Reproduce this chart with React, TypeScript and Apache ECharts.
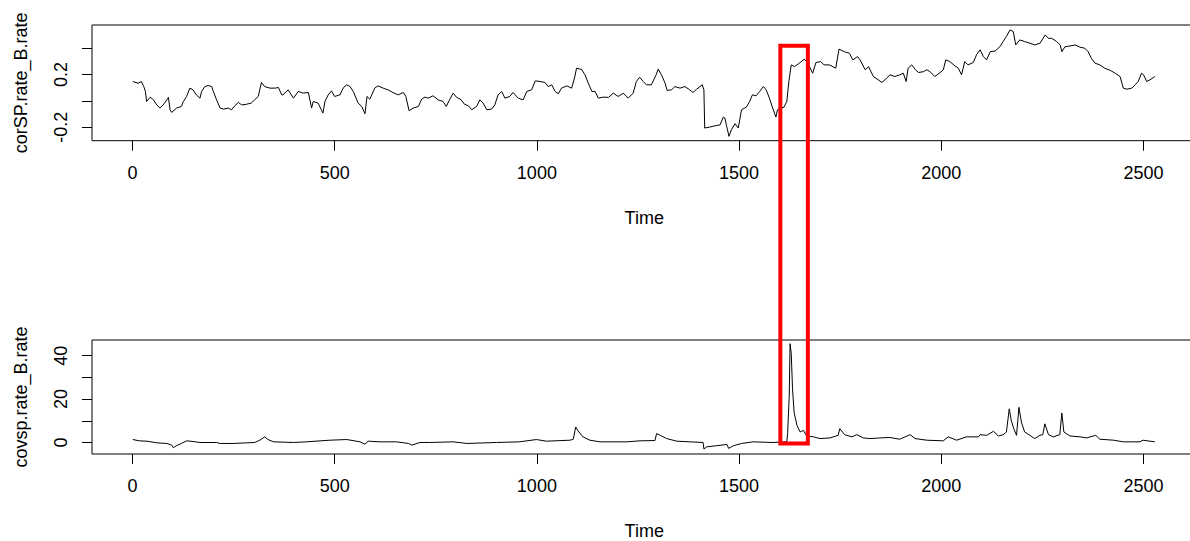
import React, { useEffect, useRef } from "react";
import * as echarts from "echarts";

// corSP.rate_B.rate : [time, value]
const corTime = [1,14,22,28,32,35,44,52,60,68,76,85,89,93,97,109,121,126,134,142,150,158,167,171,179,187,196,200,208,217,225,237,245,253,262,270,282,294,302,311,319,327,340,353,361,369,372,385,398,410,422,435,443,447,459,467,471,476,484,492,500,513,522,530,538,546,558,567,575,580,587,599,607,620,632,644,657,670,676,684,694,707,715,723,731,743,756,768,776,784,793,801,813,821,831,839,851,859,867,876,888,896,904,913,921,933,941,954,966,975,987,996,1008,1020,1028,1037,1045,1053,1061,1074,1086,1094,1098,1106,1110,1119,1127,1136,1144,1152,1164,1177,1189,1201,1214,1226,1238,1246,1254,1263,1271,1283,1295,1300,1308,1317,1322,1333,1341,1354,1366,1378,1386,1395,1409,1413,1415,1427,1441,1453,1461,1465,1469,1475,1481,1490,1498,1506,1518,1526,1533,1542,1551,1560,1567,1575,1583,1591,1595,1603,1611,1618,1623,1629,1637,1649,1661,1669,1682,1690,1702,1710,1723,1739,1747,1760,1773,1781,1793,1799,1812,1820,1832,1844,1853,1865,1873,1885,1898,1906,1913,1918,1927,1936,1944,1956,1964,1972,1984,1997,2005,2011,2021,2034,2042,2050,2058,2066,2079,2087,2096,2104,2112,2121,2133,2145,2153,2161,2170,2178,2184,2194,2206,2219,2231,2244,2257,2265,2273,2285,2294,2298,2306,2318,2331,2343,2355,2363,2371,2380,2392,2404,2418,2430,2442,2450,2459,2471,2479,2487,2495,2500,2508,2516,2528];
const corValue = [0.146,0.133,0.146,0.108,0.071,-0.005,0.028,0.007,-0.031,-0.055,-0.031,0.007,0.026,-0.068,-0.088,-0.055,-0.043,-0.005,0.033,0.096,0.083,0.045,0.020,0.071,0.108,0.116,0.108,0.071,0.007,-0.055,-0.063,-0.055,-0.068,-0.038,-0.012,-0.031,-0.026,-0.017,0.007,0.033,0.139,0.108,0.096,0.096,0.101,0.045,0.045,0.083,0.020,0.071,0.058,0.063,-0.055,-0.005,-0.017,-0.068,-0.093,-0.005,0.045,0.075,0.033,0.045,0.101,0.121,0.108,0.071,-0.017,-0.043,-0.098,0.033,0.012,0.096,0.113,0.096,0.083,0.063,0.045,0.063,0.033,-0.075,-0.055,-0.043,0.012,0.028,0.020,0.038,0.007,-0.005,-0.043,0.007,0.058,0.028,0.007,-0.026,-0.038,-0.068,-0.043,0.007,-0.017,-0.068,-0.063,-0.031,0.045,0.071,0.020,0.033,0.063,0.020,0.007,0.071,0.083,0.151,0.146,0.139,0.108,0.121,0.071,0.053,0.096,0.113,0.096,0.184,0.247,0.240,0.240,0.197,0.134,0.071,0.071,0.020,0.028,0.026,0.058,0.033,0.058,0.020,0.058,0.146,0.179,0.146,0.121,0.121,0.197,0.240,0.197,0.134,0.079,0.083,0.108,0.096,0.108,0.083,0.063,0.088,0.121,0.083,-0.206,-0.199,-0.189,-0.182,-0.123,-0.131,-0.189,-0.269,-0.219,-0.173,-0.206,-0.068,-0.048,-0.005,0.045,0.038,0.071,0.108,0.083,0.020,-0.055,-0.123,-0.068,-0.055,-0.048,-0.005,0.146,0.272,0.259,0.285,0.315,0.290,0.209,0.290,0.297,0.272,0.272,0.247,0.391,0.372,0.360,0.310,0.335,0.310,0.235,0.259,0.184,0.159,0.139,0.171,0.197,0.184,0.197,0.209,0.146,0.247,0.272,0.235,0.214,0.221,0.235,0.221,0.184,0.214,0.235,0.310,0.297,0.264,0.247,0.197,0.297,0.272,0.290,0.348,0.386,0.335,0.310,0.372,0.377,0.410,0.449,0.487,0.537,0.524,0.423,0.461,0.449,0.436,0.423,0.436,0.499,0.473,0.473,0.449,0.423,0.372,0.410,0.415,0.423,0.406,0.398,0.372,0.322,0.285,0.272,0.247,0.230,0.209,0.184,0.096,0.088,0.096,0.121,0.146,0.209,0.197,0.146,0.159,0.184];

// covsp.rate_B.rate : [time, value]
const covTime = [1,17,36,60,85,97,101,109,121,134,150,167,208,217,249,302,315,327,335,349,398,430,488,530,563,575,583,612,653,683,691,711,735,793,827,900,957,999,1024,1082,1090,1096,1102,1114,1131,1156,1222,1255,1292,1296,1305,1321,1346,1411,1413,1420,1444,1470,1474,1486,1506,1535,1584,1618,1620,1624,1626,1629,1632,1636,1643,1651,1659,1667,1684,1700,1725,1745,1749,1761,1779,1791,1807,1824,1848,1873,1897,1923,1935,1964,2005,2017,2038,2062,2092,2096,2112,2129,2141,2153,2161,2168,2173,2179,2186,2192,2198,2206,2219,2231,2244,2251,2256,2265,2277,2293,2298,2303,2318,2343,2359,2382,2392,2426,2450,2491,2499,2516,2528];
const covValue = [1.36,0.76,0.6,-0.15,-0.45,-1.2,-2.4,-1.5,-0.45,0.76,0.45,0,0,-0.45,-0.45,0,1.06,2.6,1.36,0.3,0,0.3,1.06,1.36,0.3,-0.76,0.6,0.3,0.3,-0.45,-1.2,0,0,0.3,-0.45,0,0.3,1.36,0.6,1.06,1.5,7.1,5.3,2.6,1.06,0.3,0.3,0.76,0.9,4.1,3.3,1.8,0.6,0,-3,-2,-1.5,-0.9,-2.7,-1.5,-0.45,0.3,0,0.3,4.1,21.5,45.5,41,25.2,13.9,7.9,4.85,5.6,3.0,2.6,1.8,2.1,3.3,6.4,3.6,2.6,3.6,2.1,1.8,2.1,2.3,1.5,3.6,1.8,1.06,0.76,2.6,1.06,2.6,2.6,3.6,3.3,5.15,3,3.6,4.85,15.5,10.2,6.4,3.3,16.2,9.4,4.85,3.3,1.8,3.3,3.6,8.6,3.6,2.6,3.6,13.6,4.85,3.0,2.6,2.1,3.3,1.5,1.06,0.3,0.3,1.06,0.6,0.3];

const xTicks = [0, 500, 1000, 1500, 2000, 2500];
const corTicks = [-0.2, 0, 0.2, 0.4];
const corLabels = [-0.2, 0.2];
const covTicks = [0, 10, 20, 30, 40];
const covLabels = [0, 20, 40];

// highlighted window (time range) and its vertical extent (top in cor units, bottom in cov units)
const highlightTime = [1602, 1670];
const highlightTop = 0.416;
const highlightBottom = -0.45;

const FONT = "Liberation Sans, Arial, sans-serif";

export default function App() {
  const ref = useRef<HTMLDivElement>(null);
  useEffect(() => {
    if (!ref.current) return;
    const chart = echarts.init(ref.current, null, { renderer: "svg" });
    const xAxisBase = (gridIndex: number) => ({
      type: "value",
      gridIndex,
      min: -100,
      max: 2631,
      axisLine: { show: false, onZero: false },
      splitLine: { show: false },
      axisTick: {
        show: true,
        length: 10,
        customValues: xTicks,
        lineStyle: { color: "#000", width: 1 },
      },
      axisLabel: {
        customValues: xTicks,
        formatter: (v: number) => String(v),
        fontSize: 18,
        fontFamily: FONT,
        color: "#000",
        margin: 23,
      },
      name: "Time",
      nameLocation: "middle",
      nameGap: 68,
      nameTextStyle: { fontSize: 18, fontFamily: FONT, color: "#000" },
    });
    const yAxisBase = (gridIndex: number, min: number, max: number, ticks: number[], labels: number[], name: string) => ({
      type: "value",
      gridIndex,
      min,
      max,
      axisLine: { show: false, onZero: false },
      splitLine: { show: false },
      axisTick: {
        show: true,
        length: 10,
        customValues: ticks,
        lineStyle: { color: "#000", width: 1 },
      },
      axisLabel: {
        customValues: labels,
        formatter: (v: number) => String(v),
        rotate: 90,
        fontSize: 18,
        fontFamily: FONT,
        color: "#000",
        margin: 22,
      },
      name,
      nameLocation: "middle",
      nameRotate: 90,
      nameGap: 62,
      nameTextStyle: { fontSize: 18, fontFamily: FONT, color: "#000" },
    });
    chart.setOption({
      animation: false,
      backgroundColor: "#fff",
      grid: [
        { left: 92, top: 25, width: 1104.5, height: 115.7, show: true, borderColor: "#000", borderWidth: 1, backgroundColor: "transparent", containLabel: false },
        { left: 92, top: 340, width: 1104.5, height: 116, show: true, borderColor: "#000", borderWidth: 1, backgroundColor: "transparent", containLabel: false },
      ],
      xAxis: [xAxisBase(0), xAxisBase(1)],
      yAxis: [
        yAxisBase(0, -0.302, 0.574, corTicks, corLabels, "corSP.rate_B.rate"),
        yAxisBase(1, -5.3, 47.2, covTicks, covLabels, "covsp.rate_B.rate"),
      ],
      series: [
        {
          type: "line",
          xAxisIndex: 0,
          yAxisIndex: 0,
          data: corTime.map((t, i) => [t, corValue[i]]),
          showSymbol: false,
          lineStyle: { color: "#000", width: 1 },
        },
        {
          type: "line",
          xAxisIndex: 1,
          yAxisIndex: 1,
          data: covTime.map((t, i) => [t, covValue[i]]),
          showSymbol: false,
          lineStyle: { color: "#000", width: 1 },
        },
      ],
    });
    const p1 = chart.convertToPixel({ gridIndex: 0 }, [highlightTime[0], highlightTop]) as number[];
    const p2 = chart.convertToPixel({ gridIndex: 1 }, [highlightTime[1], highlightBottom]) as number[];
    chart.setOption({
      graphic: [
        {
          type: "rect",
          shape: { x: p1[0], y: p1[1], width: p2[0] - p1[0], height: p2[1] - p1[1] },
          style: { fill: "none", stroke: "#ff0000", lineWidth: 4 },
          z: 100,
        },
      ],
    });
    return () => chart.dispose();
  }, []);
  return (
    <div style={{ position: "fixed", left: 0, top: 0, width: 1190, height: 541, overflow: "hidden", background: "#fff" }}>
      <div ref={ref} style={{ width: 1200, height: 541 }} />
    </div>
  );
}
